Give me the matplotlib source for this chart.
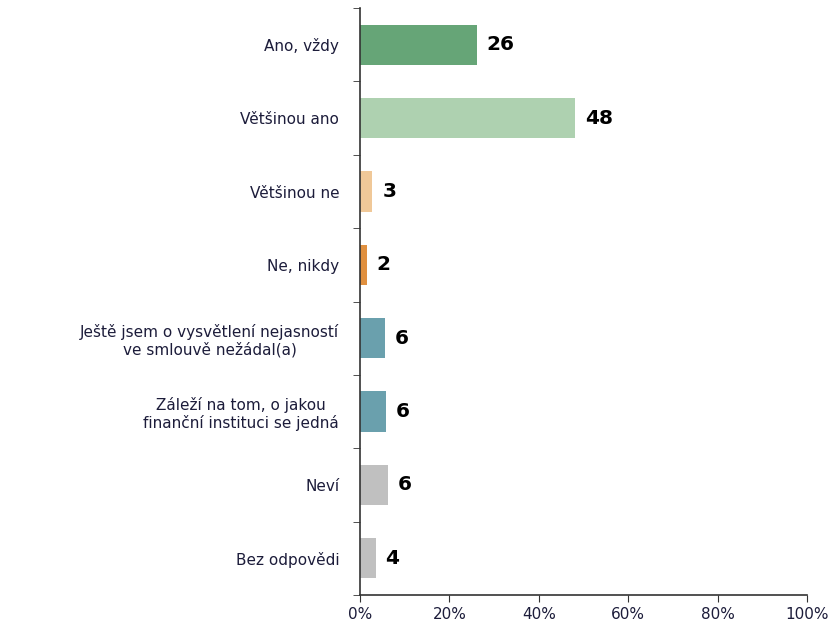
import matplotlib
matplotlib.use('Agg')
import matplotlib.pyplot as plt
import numpy as np

# data
categories = ['Ano, vždy', 'Většinou ano', 'Většinou ne', 'Ne, nikdy',
              'Ještě jsem o vysvětlení nejasností\nve smlouvě nežádal(a)',
              'Záleží na tom, o jakou\nfinanční instituci se jedná',
              'Neví', 'Bez odpovědi']
values = [26.1, 48.1, 2.8, 1.5, 5.5, 5.9, 6.2, 3.5]
labels = ['26', '48', '3', '2', '6', '6', '6', '4']
colors = ['#66a577', '#aed1b0', '#f0c898', '#e0903f',
          '#6aa0ad', '#6aa0ad', '#c0c0c0', '#c0c0c0']
xticks = [0, 20, 40, 60, 80, 100]

plt.rcParams['font.family'] = ['DejaVu Sans']
txt = '#1c1c3a'

fig = plt.figure(figsize=(8.36, 6.21), dpi=100)
ax = fig.add_axes([0.4306, 0.0419, 0.5347, 0.945])

y = np.arange(len(categories))
ax.barh(y, values, height=0.55, color=colors, zorder=2)
for yi, v, lab in zip(y, values, labels):
    ax.text(v + 2.2, yi, lab, va='center', ha='left', fontsize=14.5,
            fontweight='heavy', color='black')

ax.set_xlim(0, 100)
ax.set_ylim(len(categories) - 0.5, -0.5)
ax.set_xticks(xticks)
ax.set_xticklabels([f'{t}%' for t in xticks], fontsize=11, color=txt)

# category labels centred on the bars, ticks between the rows
ax.set_yticks(y)
ax.set_yticklabels(categories, fontsize=11, color=txt, multialignment='center',
                   linespacing=1.15)
ax.tick_params(axis='y', which='major', length=0, pad=15)
ax.set_yticks(np.arange(-0.5, len(categories) + 0.5, 1), minor=True)
ax.tick_params(axis='y', which='minor', length=5, color='#333333', direction='out')
ax.tick_params(axis='x', length=5, color='#333333', direction='out', pad=4)

for s in ('top', 'right'):
    ax.spines[s].set_visible(False)
for s in ('left', 'bottom'):
    ax.spines[s].set_color('#333333')
    ax.spines[s].set_linewidth(1.2)

fig.savefig('out.png', dpi=100)
